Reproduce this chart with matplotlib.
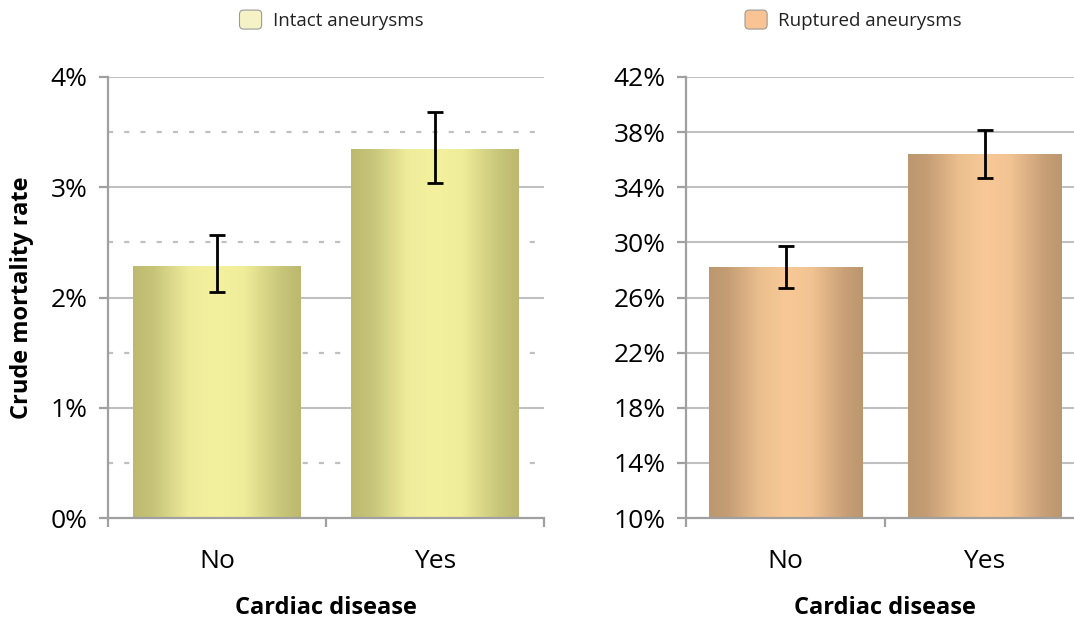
import numpy as np
import matplotlib
matplotlib.use("Agg")
import matplotlib.pyplot as plt
from matplotlib.colors import LinearSegmentedColormap
from matplotlib.patches import Patch, FancyBboxPatch
from matplotlib.legend_handler import HandlerPatch
from matplotlib.ticker import FixedLocator, FuncFormatter

plt.rcParams['font.family'] = ['Open Sans', 'DejaVu Sans']

# ---- data -------------------------------------------------------------
categories = ["No", "Yes"]

intact_rate = [2.29, 3.35]
intact_lo = [2.05, 3.04]
intact_hi = [2.57, 3.68]

ruptured_rate = [28.2, 36.4]
ruptured_lo = [26.7, 34.7]
ruptured_hi = [29.75, 38.15]

intact_ticks = [0, 1, 2, 3, 4]
ruptured_ticks = [10, 14, 18, 22, 26, 30, 34, 38, 42]

# ---- styling ----------------------------------------------------------
W, H = 1074, 621
DPI = 100
GRID = "#c0c0c0"
SPINE = "#a0a0a0"

intact_cmap = LinearSegmentedColormap.from_list(
    "intact", [(0.0, "#bdba70"), (0.12, "#c6c478"), (0.33, "#eeeb9b"),
               (0.5, "#f4f19e"), (0.66, "#f0ed9a"), (0.88, "#c8c679"),
               (1.0, "#bcb96f")])
ruptured_cmap = LinearSegmentedColormap.from_list(
    "ruptured", [(0.0, "#bc976f"), (0.12, "#c49d74"), (0.33, "#ebbf8e"),
                 (0.5, "#f8c997"), (0.66, "#f3c493"), (0.88, "#c9a078"),
                 (1.0, "#bb966e")])

fig = plt.figure(figsize=(W / DPI, H / DPI), dpi=DPI)
ax1 = fig.add_axes([108 / W, 1 - 518 / H, 436 / W, 441 / H])
ax2 = fig.add_axes([686 / W, 1 - 518 / H, 398 / W, 441 / H])

grad = np.linspace(0, 1, 256).reshape(1, -1)


def draw_panel(ax, rates, lo, hi, ticks, cmap, minor_dashed):
    x = np.arange(len(categories))
    bars = ax.bar(x, rates, width=0.77, color="none", edgecolor="none", zorder=2)
    for b in bars:
        x0, y0 = b.get_x(), ticks[0]
        im = ax.imshow(grad, cmap=cmap, aspect="auto", zorder=2,
                       extent=[x0, x0 + b.get_width(), y0, b.get_height()],
                       interpolation="bicubic")
        im.set_clip_path(b)
    ax.set_xlim(-0.5, len(categories) - 0.5)
    ax.set_ylim(ticks[0], ticks[-1])

    rates_a = np.asarray(rates)
    yerr = [rates_a - np.asarray(lo), np.asarray(hi) - rates_a]
    ax.errorbar(x, rates, yerr=yerr, fmt="none", ecolor="black",
                elinewidth=2.0, capsize=5.8, capthick=2.0, zorder=4)

    # gridlines
    for t in ticks[1:]:
        ax.axhline(t, color=GRID, lw=1.5, zorder=1)
    if minor_dashed:
        for t in np.asarray(ticks[:-1]) + 0.5:
            ax.axhline(t, color=GRID, lw=1.6, zorder=1,
                       linestyle=(0, (2.3, 5.0)))

    for s in ("top", "right"):
        ax.spines[s].set_visible(False)
    for s in ("left", "bottom"):
        ax.spines[s].set_color(SPINE)
        ax.spines[s].set_linewidth(1.6)
        ax.spines[s].set_zorder(3)

    ax.yaxis.set_major_locator(FixedLocator(ticks))
    ax.yaxis.set_major_formatter(FuncFormatter(lambda v, p: f"{v:.0f}%"))
    ax.tick_params(axis="y", which="major", length=6.5, width=1.6,
                   color=SPINE, labelsize=19, pad=8)

    ax.set_xticks(x)
    ax.set_xticklabels(categories)
    ax.tick_params(axis="x", which="major", length=0, labelsize=19, pad=22.5)
    ax.xaxis.set_minor_locator(FixedLocator(np.arange(len(categories) + 1) - 0.5))
    ax.tick_params(axis="x", which="minor", length=6.5, width=1.6, color=SPINE)

    ax.set_xlabel("Cardiac disease", fontsize=17, fontweight="bold")
    ax.xaxis.label.set_va("center")
    ax.xaxis.set_label_coords(0.5, -0.205)


draw_panel(ax1, intact_rate, intact_lo, intact_hi, intact_ticks, intact_cmap, True)
draw_panel(ax2, ruptured_rate, ruptured_lo, ruptured_hi, ruptured_ticks, ruptured_cmap, False)

ax1.set_ylabel("Crude mortality rate", fontsize=17, fontweight="bold")
ax1.yaxis.label.set_va("center")
ax1.yaxis.set_label_coords(-0.197, 0.5)


def rounded_square(legend, orig_handle, xdescent, ydescent, width, height, fontsize):
    return FancyBboxPatch((-xdescent, -ydescent), width, height,
                          boxstyle="round,pad=0,rounding_size=3")


handler = {Patch: HandlerPatch(patch_func=rounded_square)}
for ax, label, fc, cx in [(ax1, "Intact aneurysms", "#f5f3c6", 331.5),
                          (ax2, "Ruptured aneurysms", "#f9c393", 853.5)]:
    leg = ax.legend(handles=[Patch(facecolor=fc, edgecolor="#9a9a9a", linewidth=0.8, label=label)],
                    loc="center", bbox_to_anchor=(cx / W, 1 - 20 / H),
                    bbox_transform=fig.transFigure, frameon=False,
                    fontsize=13.5, handlelength=1.18, handleheight=1.18,
                    handletextpad=0.6, handler_map=handler)
    for t in leg.get_texts():
        t.set_color("#222222")

fig.savefig("out.png", dpi=DPI)
